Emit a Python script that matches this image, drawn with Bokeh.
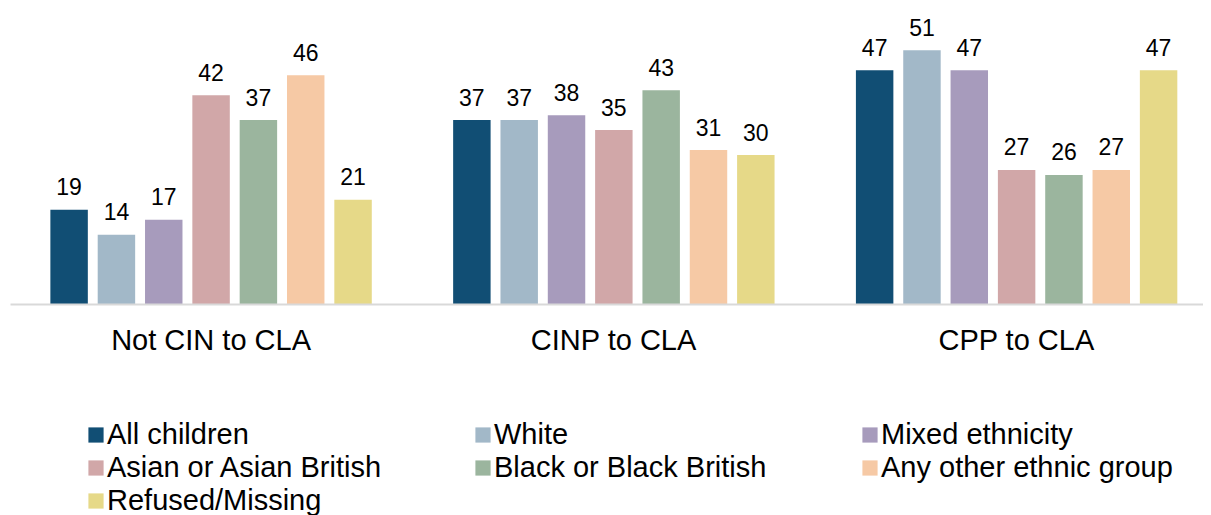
from bokeh.plotting import figure
from bokeh.layouts import column
from bokeh.models import ColumnDataSource, Range1d, FixedTicker, Legend, LegendItem
from bokeh.transform import dodge
from bokeh.core.properties import value
from bokeh.embed import file_html
from bokeh.resources import INLINE

groups = ["Not CIN to CLA", "CINP to CLA", "CPP to CLA"]
series = ["All children", "White", "Mixed ethnicity", "Asian or Asian British",
          "Black or Black British", "Any other ethnic group", "Refused/Missing"]
all_children = [19, 37, 47]
white = [14, 37, 51]
mixed = [17, 38, 47]
asian = [42, 35, 27]
black = [37, 43, 26]
other = [46, 31, 27]
refused = [21, 30, 47]
values_list = [all_children, white, mixed, asian, black, other, refused]
colors = ["#114E74", "#A2B8C8", "#A79BBC", "#D1A7A8", "#9BB59E", "#F6C9A5", "#E6D988"]

FONT = "Liberation Sans"
pitch = 0.1175
bar_w = 0.093

p = figure(width=1203, height=404, output_backend="svg", toolbar_location=None,
           x_range=Range1d(-0.498, 2.464), y_range=Range1d(0, 59.4),
           min_border_left=10, min_border_right=0, min_border_top=8,
           min_border_bottom=100)
p.outline_line_color = None
p.xgrid.visible = False
p.ygrid.visible = False
p.yaxis.visible = False

# legend-only figure (proxy renderers, drawn off-range)
lp = figure(width=1203, height=111, output_backend="svg", toolbar_location=None,
            x_range=Range1d(-10, -9), y_range=Range1d(0, 1),
            min_border_left=10, min_border_right=0, min_border_top=0,
            min_border_bottom=0)
lp.outline_line_color = None
lp.axis.visible = False
lp.grid.visible = False

xs = list(range(len(groups)))
items = []
for i, (name, vals, col) in enumerate(zip(series, values_list, colors)):
    src = ColumnDataSource(dict(x=xs, v=vals, lab=[str(v) for v in vals]))
    off = (i - 3) * pitch
    p.vbar(x=dodge("x", off), top="v", width=bar_w, source=src,
           fill_color=col, line_color=None)
    p.text(x=dodge("x", off), y="v", text="lab", source=src,
           text_align="center", text_baseline="alphabetic", y_offset=-23,
           text_font=value(FONT), text_font_size="23px", text_color="#000000")
    r = lp.vbar(x=dodge("x", off), top="v", width=bar_w, source=src,
                fill_color=col, line_color=None)
    items.append(LegendItem(label=name, renderers=[r]))

ax = p.xaxis[0]
ax.ticker = FixedTicker(ticks=xs)
ax.major_label_overrides = {i: g for i, g in enumerate(groups)}
ax.axis_line_color = "#D9D9D9"
ax.axis_line_width = 2
ax.major_tick_line_color = None
ax.minor_tick_line_color = None
ax.major_label_text_font = FONT
ax.major_label_text_font_size = "29px"
ax.major_label_text_color = "#000000"
ax.major_label_standoff = 13

legend = Legend(items=items, orientation="horizontal", ncols=3,
                location=(76, -2), glyph_width=19, glyph_height=19,
                label_standoff=2, label_width=366, spacing=0, padding=0, margin=0,
                border_line_color=None, background_fill_alpha=0,
                label_text_font=FONT, label_text_font_size="29px",
                label_text_color="#000000")
lp.add_layout(legend)

open("out.html", "w").write(file_html(column(p, lp, spacing=0), INLINE))
